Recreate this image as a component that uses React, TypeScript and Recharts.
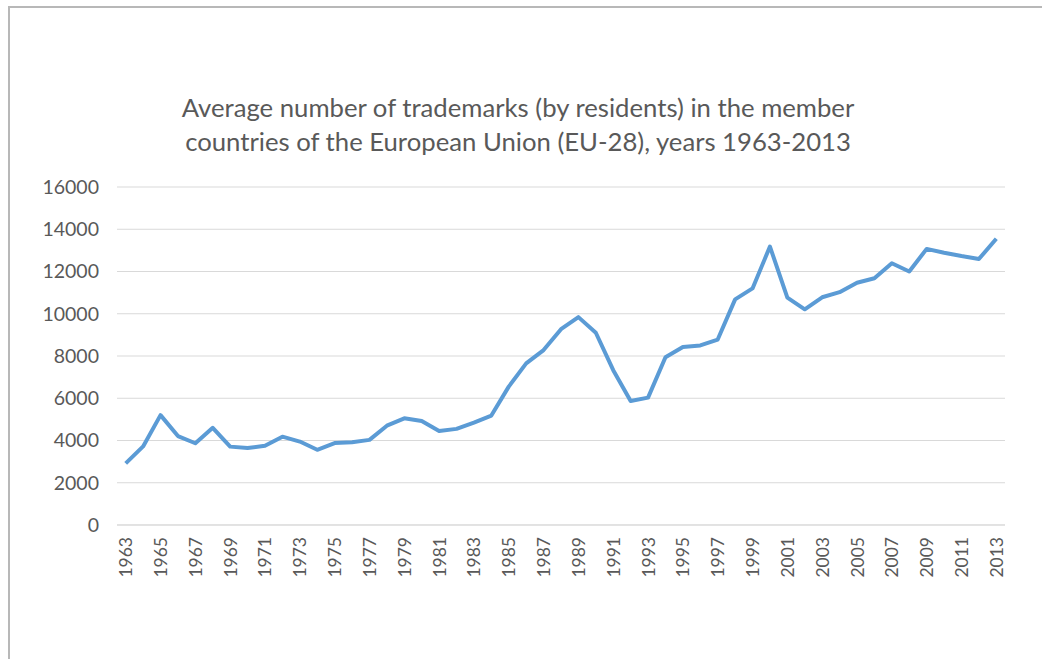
import React from 'react';
import { LineChart, Line, XAxis, YAxis, CartesianGrid } from 'recharts';

const years = [
  '1963', '1964', '1965', '1966', '1967', '1968', '1969', '1970', '1971', '1972',
  '1973', '1974', '1975', '1976', '1977', '1978', '1979', '1980', '1981', '1982',
  '1983', '1984', '1985', '1986', '1987', '1988', '1989', '1990', '1991', '1992',
  '1993', '1994', '1995', '1996', '1997', '1998', '1999', '2000', '2001', '2002',
  '2003', '2004', '2005', '2006', '2007', '2008', '2009', '2010', '2011', '2012',
  '2013'
];

// average trademarks per country
const trademarks = [
  2920, 3720, 5200, 4210, 3870, 4600, 3710, 3640, 3750, 4180,
  3950, 3560, 3880, 3920, 4030, 4700, 5050, 4920, 4450, 4550,
  4850, 5180, 6550, 7650, 8280, 9270, 9840, 9100, 7330, 5870,
  6030, 7940, 8430, 8500, 8780, 10680, 11200, 13180, 10760, 10210,
  10780, 11020, 11470, 11680, 12390, 12000, 13070, 12890, 12730, 12590,
  13550
];

const yTicks = [0, 2000, 4000, 6000, 8000, 10000, 12000, 14000, 16000];

const titleLines = [
  'Average number of trademarks (by residents) in the member',
  'countries of the European Union (EU-28), years 1963-2013'
];

const chartData = years.map((year, i) => ({ year, value: trademarks[i] }));

const FONT = 'Lato, "Open Sans", sans-serif';

const YearTick = (props: any) => {
  const { x, payload } = props;
  return (
    <text
      x={x}
      y={537}
      transform={`rotate(-90, ${x}, 537)`}
      textAnchor="end"
      dominantBaseline="central"
      fill="#595959"
      fontSize={17.5}
      fontFamily={FONT}
    >
      {payload.value}
    </text>
  );
};

const App: React.FC = () => {
  return (
    <div style={{ position: 'absolute', left: 0, top: 0, width: 1042, height: 659, background: '#fff' }}>
      <div
        style={{
          position: 'absolute',
          left: 8,
          top: 6,
          right: 0,
          bottom: 0,
          borderTop: '2px solid #b8b8b8',
          borderLeft: '2px solid #b8b8b8'
        }}
      />
      <div
        style={{
          position: 'absolute',
          left: 0,
          top: 90,
          width: 1036,
          textAlign: 'center',
          fontFamily: FONT,
          fontSize: 25.7,
          lineHeight: '34px',
          color: '#595959'
        }}
      >
        {titleLines.map(t => (
          <div key={t}>{t}</div>
        ))}
      </div>
      <div style={{ position: 'absolute', left: 0, top: 0 }}>
        <LineChart
          width={1042}
          height={659}
          data={chartData}
          margin={{ top: 187, right: 37, bottom: 74, left: 37 }}
        >
          <CartesianGrid vertical={false} stroke="#d9d9d9" />
          <XAxis
            dataKey="year"
            interval={1}
            height={60}
            padding={{ left: 8.7, right: 8.7 }}
            axisLine={{ stroke: '#d9d9d9' }}
            tickLine={false}
            tick={<YearTick />}
          />
          <YAxis
            width={80}
            domain={[0, 16000]}
            ticks={yTicks}
            axisLine={false}
            tickLine={false}
            tickSize={0}
            tickMargin={18}
            tick={{ fill: '#595959', fontSize: 19.5, fontFamily: FONT }}
          />
          <Line
            type="linear"
            dataKey="value"
            stroke="#5b9bd5"
            strokeWidth={4}
            strokeLinejoin="round"
            dot={false}
            isAnimationActive={false}
          />
        </LineChart>
      </div>
    </div>
  );
};

export default App;
